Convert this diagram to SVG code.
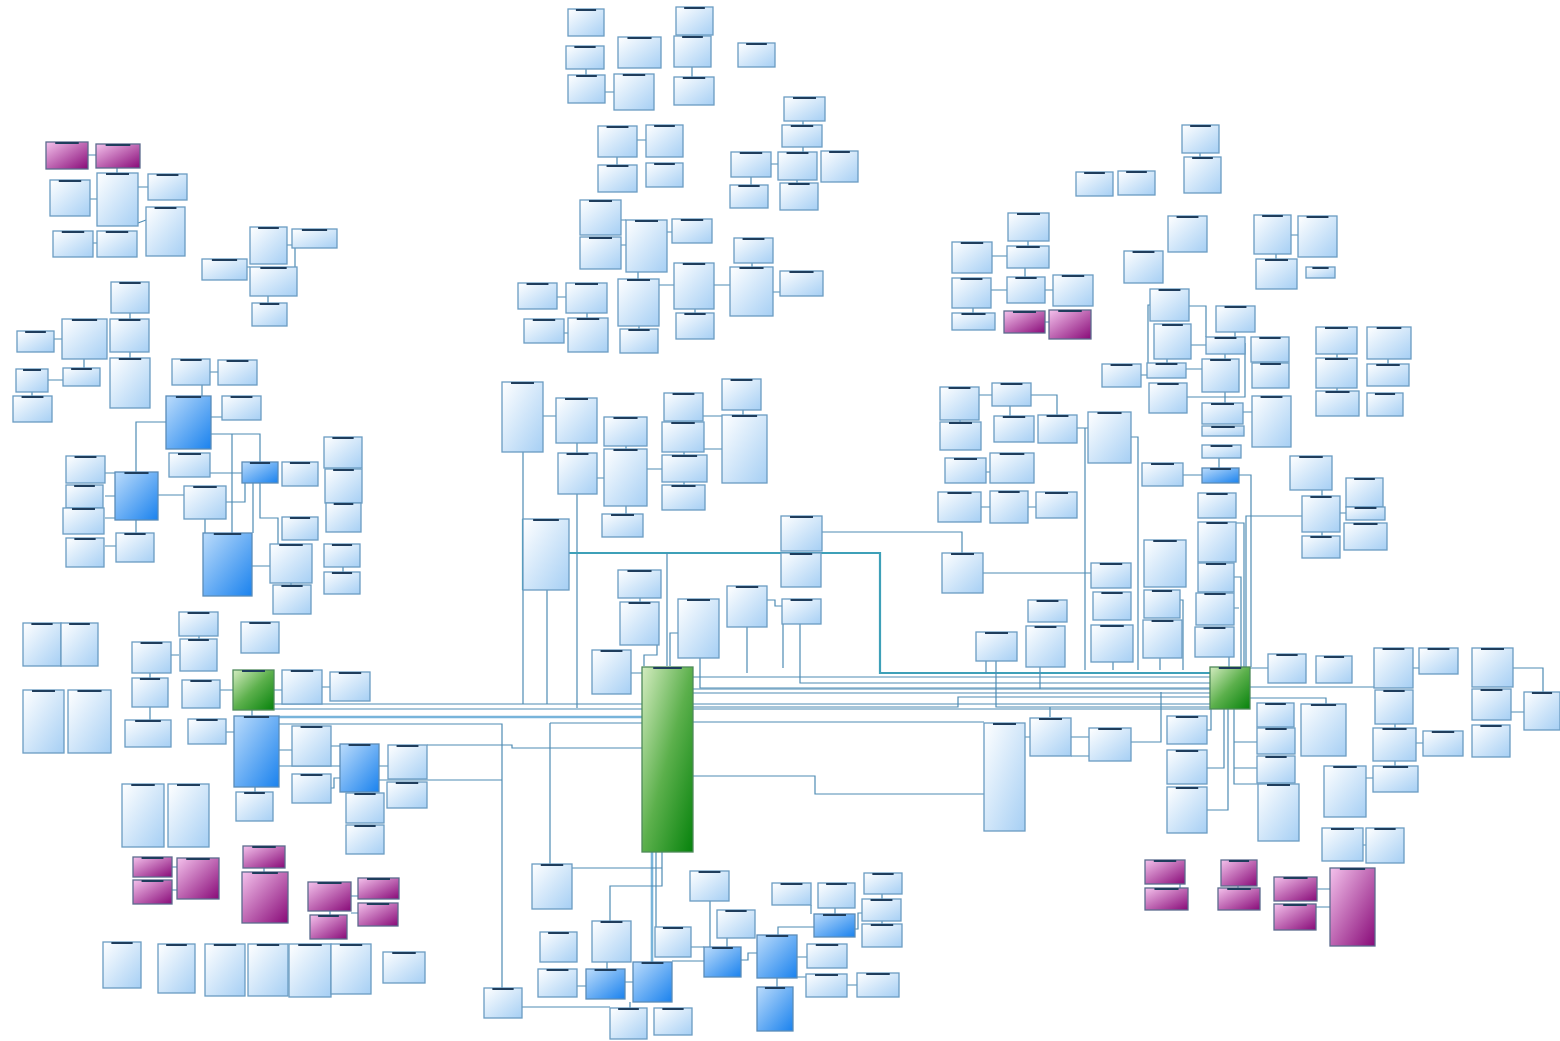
<svg xmlns="http://www.w3.org/2000/svg" width="1560" height="1041" viewBox="0 0 1560 1041">
<defs>
<linearGradient id="gl" x1="0" y1="0" x2="1" y2="1"><stop offset="0" stop-color="#ffffff"/><stop offset="1" stop-color="#a6cff4"/></linearGradient>
<linearGradient id="gb" x1="0" y1="0" x2="1" y2="1"><stop offset="0" stop-color="#bcdcfb"/><stop offset="1" stop-color="#1a82ee"/></linearGradient>
<linearGradient id="gp" x1="0" y1="0" x2="1" y2="1"><stop offset="0" stop-color="#f4c2ec"/><stop offset="1" stop-color="#880a78"/></linearGradient>
<linearGradient id="gg" x1="0" y1="0" x2="1" y2="1"><stop offset="0" stop-color="#d4ecc0"/><stop offset="0.5" stop-color="#5cb04c"/><stop offset="1" stop-color="#06820c"/></linearGradient>
</defs>
<style>
svg svg{overflow:visible}
.l rect{fill:url(#gl);stroke:#6a9cc2;stroke-width:1.3}
.b rect{fill:url(#gb);stroke:#5a8cb8;stroke-width:1.3}
.p rect{fill:url(#gp);stroke:#5c6c8e;stroke-width:1.3}
.g rect{fill:url(#gg);stroke:#4f8a5a;stroke-width:1.3}
rect.h{fill:#1f3d5c;stroke:none}
.c path{fill:none;stroke:#4f8cb4;stroke-width:1.2}
.c path.t{stroke:#78b4da;stroke-width:2.6}
.c path.t2{stroke:#3ea0b8;stroke-width:2.2}
</style>
<rect width="1560" height="1041" fill="#ffffff"/>
<g id="connectors" class="c">
<path d="M88 155H96M117 168V173M90 199H97M138 187H148M138 223L146 220M93 243H97M287 245H292M295 248V267M247 267H250M268 296V303M130 313V319M54 339H62M84 359V368M48 380H63M32 392V396M130 352V358M210 372H218M202 385V396M211 417H222"/>
<path d="M136 472V422H166M211 434H260V462M232 434V533M210 473H242M158 495H184M226 502H245V483M253 483V533M260 483V518H278V544M105 473H115M105 496H115M105 518H115M136 520V533M105 546H116M205 519V533M252 566H270M291 583V585M343 567V572"/>
<path d="M171 655H179M150 673V678M150 707V720M220 690H233M274 690H282M322 687H330M226 732H234M252 710V716M279 750H292M279 766H340M331 746H340M331 788H334V778H340M379 766H388M379 780H502M427 745H512V748H642M255 787V792M199 636V639"/>
<path d="M274 704H1210M274 709H1210"/>
<path class="t" d="M279 717H642"/>
<path d="M279 724H502V988M172 867H177M172 890H177M264 868V872M351 896H358M351 913H358M330 911V915"/>
<path d="M586 69V75M605 92H614M692 67V77M637 140H646M617 157V165M771 164H778M751 177V185M797 180V183M803 121V125M803 147V152M621 245H626M621 220H626M667 232H672M638 272V279M557 297H566M587 313V318M564 333H568M659 285H674M714 285H730M773 292H780M695 309V313M639 326V329M752 263V267"/>
<path d="M543 416H556M577 443V453M597 478H604M647 469H662M626 446V449M626 506V514M684 452V455M684 482V485M703 416H722M704 449H722M743 410V415M523 452V704M547 590V704M577 494V708"/>
<path class="t2" d="M523 519V590"/>
<path class="t2" d="M569 553H880V673H1210"/>
<path d="M667 553V666M822 532H962V553M983 573H1091M640 598V602M657 645V655H644V666M631 673H642M678 633H670V666M700 658V688H1210M767 600H775V606H782M747 627V673M783 624V668M800 624V683H1210M693 677H1210M693 693H1210M693 707H958V697H1210M693 722H984M693 776H815V794H984"/>
<path class="t" d="M652 852V962"/>
<path d="M656 852V927M662 852V886H610V921M572 868H662M550 723H642M550 723V864M577 986H586M625 982H633M607 962V969M630 1002V1008M691 947H704M672 961H704M710 901V947M727 938V947M741 960H748V953H757M778 935V927H814M811 905V914M835 908V914M855 929H858V913H862M882 894V899M882 921V924M797 957H807M797 977H806M847 985H857M777 978V987M522 1007H610"/>
<path d="M1028 241V246M992 256H1007M1025 268V277M991 290H1007M1045 290H1053M973 308V313M1045 322H1049M1291 235H1298M1276 254V259M1189 306H1206V337M1191 345H1206M1235 332V337M1150 305H1148V363M1167 359V363M1141 375H1147M1186 369H1202M1245 343V397H1187M1225 354V359M1225 392V403M1243 412H1252M1337 354V358M1388 359V364M1337 388V391M1200 153V157"/>
<path d="M979 395H992M960 420V422M1031 395H1057V415M1010 406V416M1077 428H1088M1085 428V670M1131 437H1138V670"/>
<path d="M986 472H990M981 507H990M1028 507H1036M1183 475H1202M1219 458V468M1239 475H1251V667M1302 516H1246V667M1236 523H1244V667M1234 577H1241V667M1234 608H1239M1229 657V667M1340 513H1346M1322 490V496M1322 532V536M1180 600H1183V670M1113 662V670M1160 658V670M986 661V673M996 661V707H1210M1040 667V689M693 689H1210M1050 707V717M1161 692V742H1131"/>
<path d="M1250 668H1268M1250 687H1374M1413 668H1419M1513 668H1543V692M1511 712H1524M1250 698H1326V704M1207 730H1211V709M1207 768H1224V709M1207 810H1228V709M1234 709V784H1258M1234 742H1257M1234 768H1257M1025 737H1030M1071 737H1089M1071 756H1089M1366 778H1373M1395 724V728M1395 761V766M1416 743H1423M1363 845H1366M1180 884V888M1238 886V888M1317 889H1330M1316 907H1330"/>
</g>
<g id="n1"><svg x="46" y="142" width="42" height="27" class="p"><rect width="100%" height="100%"/><rect class="h" x="22%" width="56%" height="2"/></svg></g>
<g id="n2"><svg x="96" y="144" width="44" height="24" class="p"><rect width="100%" height="100%"/><rect class="h" x="22%" width="56%" height="2"/></svg></g>
<g id="n3"><svg x="50" y="180" width="40" height="36" class="l"><rect width="100%" height="100%"/><rect class="h" x="22%" width="56%" height="2"/></svg></g>
<g id="n4"><svg x="97" y="173" width="41" height="53" class="l"><rect width="100%" height="100%"/><rect class="h" x="22%" width="56%" height="2"/></svg></g>
<g id="n5"><svg x="148" y="174" width="39" height="26" class="l"><rect width="100%" height="100%"/><rect class="h" x="22%" width="56%" height="2"/></svg></g>
<g id="n6"><svg x="146" y="207" width="39" height="49" class="l"><rect width="100%" height="100%"/><rect class="h" x="22%" width="56%" height="2"/></svg></g>
<g id="n7"><svg x="53" y="231" width="40" height="26" class="l"><rect width="100%" height="100%"/><rect class="h" x="22%" width="56%" height="2"/></svg></g>
<g id="n8"><svg x="97" y="231" width="40" height="26" class="l"><rect width="100%" height="100%"/><rect class="h" x="22%" width="56%" height="2"/></svg></g>
<g id="n9"><svg x="250" y="227" width="37" height="37" class="l"><rect width="100%" height="100%"/><rect class="h" x="22%" width="56%" height="2"/></svg></g>
<g id="n10"><svg x="292" y="229" width="45" height="19" class="l"><rect width="100%" height="100%"/><rect class="h" x="22%" width="56%" height="2"/></svg></g>
<g id="n11"><svg x="202" y="259" width="45" height="21" class="l"><rect width="100%" height="100%"/><rect class="h" x="22%" width="56%" height="2"/></svg></g>
<g id="n12"><svg x="250" y="267" width="47" height="29" class="l"><rect width="100%" height="100%"/><rect class="h" x="22%" width="56%" height="2"/></svg></g>
<g id="n13"><svg x="252" y="303" width="35" height="23" class="l"><rect width="100%" height="100%"/><rect class="h" x="22%" width="56%" height="2"/></svg></g>
<g id="n14"><svg x="111" y="282" width="38" height="31" class="l"><rect width="100%" height="100%"/><rect class="h" x="22%" width="56%" height="2"/></svg></g>
<g id="n15"><svg x="62" y="319" width="45" height="40" class="l"><rect width="100%" height="100%"/><rect class="h" x="22%" width="56%" height="2"/></svg></g>
<g id="n16"><svg x="110" y="319" width="39" height="33" class="l"><rect width="100%" height="100%"/><rect class="h" x="22%" width="56%" height="2"/></svg></g>
<g id="n17"><svg x="17" y="331" width="37" height="21" class="l"><rect width="100%" height="100%"/><rect class="h" x="22%" width="56%" height="2"/></svg></g>
<g id="n18"><svg x="16" y="369" width="32" height="23" class="l"><rect width="100%" height="100%"/><rect class="h" x="22%" width="56%" height="2"/></svg></g>
<g id="n19"><svg x="63" y="368" width="37" height="18" class="l"><rect width="100%" height="100%"/><rect class="h" x="22%" width="56%" height="2"/></svg></g>
<g id="n20"><svg x="13" y="396" width="39" height="26" class="l"><rect width="100%" height="100%"/><rect class="h" x="22%" width="56%" height="2"/></svg></g>
<g id="n21"><svg x="110" y="358" width="40" height="50" class="l"><rect width="100%" height="100%"/><rect class="h" x="22%" width="56%" height="2"/></svg></g>
<g id="n22"><svg x="172" y="359" width="38" height="26" class="l"><rect width="100%" height="100%"/><rect class="h" x="22%" width="56%" height="2"/></svg></g>
<g id="n23"><svg x="218" y="360" width="39" height="25" class="l"><rect width="100%" height="100%"/><rect class="h" x="22%" width="56%" height="2"/></svg></g>
<g id="n24"><svg x="166" y="396" width="45" height="53" class="b"><rect width="100%" height="100%"/><rect class="h" x="22%" width="56%" height="2"/></svg></g>
<g id="n25"><svg x="169" y="453" width="41" height="24" class="l"><rect width="100%" height="100%"/><rect class="h" x="22%" width="56%" height="2"/></svg></g>
<g id="n26"><svg x="222" y="396" width="39" height="24" class="l"><rect width="100%" height="100%"/><rect class="h" x="22%" width="56%" height="2"/></svg></g>
<g id="n27"><svg x="242" y="462" width="36" height="21" class="b"><rect width="100%" height="100%"/><rect class="h" x="22%" width="56%" height="2"/></svg></g>
<g id="n28"><svg x="282" y="462" width="36" height="24" class="l"><rect width="100%" height="100%"/><rect class="h" x="22%" width="56%" height="2"/></svg></g>
<g id="n29"><svg x="324" y="437" width="38" height="31" class="l"><rect width="100%" height="100%"/><rect class="h" x="22%" width="56%" height="2"/></svg></g>
<g id="n30"><svg x="325" y="469" width="37" height="34" class="l"><rect width="100%" height="100%"/><rect class="h" x="22%" width="56%" height="2"/></svg></g>
<g id="n31"><svg x="326" y="503" width="35" height="29" class="l"><rect width="100%" height="100%"/><rect class="h" x="22%" width="56%" height="2"/></svg></g>
<g id="n32"><svg x="324" y="544" width="36" height="23" class="l"><rect width="100%" height="100%"/><rect class="h" x="22%" width="56%" height="2"/></svg></g>
<g id="n33"><svg x="324" y="572" width="36" height="22" class="l"><rect width="100%" height="100%"/><rect class="h" x="22%" width="56%" height="2"/></svg></g>
<g id="n34"><svg x="66" y="456" width="39" height="27" class="l"><rect width="100%" height="100%"/><rect class="h" x="22%" width="56%" height="2"/></svg></g>
<g id="n35"><svg x="66" y="485" width="37" height="23" class="l"><rect width="100%" height="100%"/><rect class="h" x="22%" width="56%" height="2"/></svg></g>
<g id="n36"><svg x="63" y="508" width="41" height="26" class="l"><rect width="100%" height="100%"/><rect class="h" x="22%" width="56%" height="2"/></svg></g>
<g id="n37"><svg x="66" y="538" width="38" height="29" class="l"><rect width="100%" height="100%"/><rect class="h" x="22%" width="56%" height="2"/></svg></g>
<g id="n38"><svg x="115" y="472" width="43" height="48" class="b"><rect width="100%" height="100%"/><rect class="h" x="22%" width="56%" height="2"/></svg></g>
<g id="n39"><svg x="116" y="533" width="38" height="29" class="l"><rect width="100%" height="100%"/><rect class="h" x="22%" width="56%" height="2"/></svg></g>
<g id="n40"><svg x="184" y="486" width="42" height="33" class="l"><rect width="100%" height="100%"/><rect class="h" x="22%" width="56%" height="2"/></svg></g>
<g id="n41"><svg x="203" y="533" width="49" height="63" class="b"><rect width="100%" height="100%"/><rect class="h" x="22%" width="56%" height="2"/></svg></g>
<g id="n42"><svg x="270" y="544" width="42" height="39" class="l"><rect width="100%" height="100%"/><rect class="h" x="22%" width="56%" height="2"/></svg></g>
<g id="n43"><svg x="282" y="517" width="36" height="23" class="l"><rect width="100%" height="100%"/><rect class="h" x="22%" width="56%" height="2"/></svg></g>
<g id="n44"><svg x="273" y="585" width="38" height="29" class="l"><rect width="100%" height="100%"/><rect class="h" x="22%" width="56%" height="2"/></svg></g>
<g id="n45"><svg x="23" y="623" width="38" height="43" class="l"><rect width="100%" height="100%"/><rect class="h" x="22%" width="56%" height="2"/></svg></g>
<g id="n46"><svg x="61" y="623" width="37" height="43" class="l"><rect width="100%" height="100%"/><rect class="h" x="22%" width="56%" height="2"/></svg></g>
<g id="n47"><svg x="132" y="642" width="39" height="31" class="l"><rect width="100%" height="100%"/><rect class="h" x="22%" width="56%" height="2"/></svg></g>
<g id="n48"><svg x="179" y="612" width="39" height="24" class="l"><rect width="100%" height="100%"/><rect class="h" x="22%" width="56%" height="2"/></svg></g>
<g id="n49"><svg x="180" y="639" width="37" height="32" class="l"><rect width="100%" height="100%"/><rect class="h" x="22%" width="56%" height="2"/></svg></g>
<g id="n50"><svg x="241" y="622" width="38" height="31" class="l"><rect width="100%" height="100%"/><rect class="h" x="22%" width="56%" height="2"/></svg></g>
<g id="n51"><svg x="23" y="690" width="41" height="63" class="l"><rect width="100%" height="100%"/><rect class="h" x="22%" width="56%" height="2"/></svg></g>
<g id="n52"><svg x="68" y="690" width="43" height="63" class="l"><rect width="100%" height="100%"/><rect class="h" x="22%" width="56%" height="2"/></svg></g>
<g id="n53"><svg x="132" y="678" width="36" height="29" class="l"><rect width="100%" height="100%"/><rect class="h" x="22%" width="56%" height="2"/></svg></g>
<g id="n54"><svg x="125" y="720" width="46" height="27" class="l"><rect width="100%" height="100%"/><rect class="h" x="22%" width="56%" height="2"/></svg></g>
<g id="n55"><svg x="182" y="680" width="38" height="28" class="l"><rect width="100%" height="100%"/><rect class="h" x="22%" width="56%" height="2"/></svg></g>
<g id="n56"><svg x="233" y="670" width="41" height="40" class="g"><rect width="100%" height="100%"/><rect class="h" x="22%" width="56%" height="2"/></svg></g>
<g id="n57"><svg x="282" y="670" width="40" height="34" class="l"><rect width="100%" height="100%"/><rect class="h" x="22%" width="56%" height="2"/></svg></g>
<g id="n58"><svg x="330" y="672" width="40" height="29" class="l"><rect width="100%" height="100%"/><rect class="h" x="22%" width="56%" height="2"/></svg></g>
<g id="n59"><svg x="188" y="719" width="38" height="25" class="l"><rect width="100%" height="100%"/><rect class="h" x="22%" width="56%" height="2"/></svg></g>
<g id="n60"><svg x="234" y="716" width="45" height="71" class="b"><rect width="100%" height="100%"/><rect class="h" x="22%" width="56%" height="2"/></svg></g>
<g id="n61"><svg x="236" y="792" width="37" height="29" class="l"><rect width="100%" height="100%"/><rect class="h" x="22%" width="56%" height="2"/></svg></g>
<g id="n62"><svg x="292" y="726" width="39" height="40" class="l"><rect width="100%" height="100%"/><rect class="h" x="22%" width="56%" height="2"/></svg></g>
<g id="n63"><svg x="292" y="774" width="39" height="29" class="l"><rect width="100%" height="100%"/><rect class="h" x="22%" width="56%" height="2"/></svg></g>
<g id="n64"><svg x="340" y="744" width="39" height="48" class="b"><rect width="100%" height="100%"/><rect class="h" x="22%" width="56%" height="2"/></svg></g>
<g id="n65"><svg x="388" y="745" width="39" height="34" class="l"><rect width="100%" height="100%"/><rect class="h" x="22%" width="56%" height="2"/></svg></g>
<g id="n66"><svg x="387" y="782" width="40" height="26" class="l"><rect width="100%" height="100%"/><rect class="h" x="22%" width="56%" height="2"/></svg></g>
<g id="n67"><svg x="346" y="793" width="38" height="30" class="l"><rect width="100%" height="100%"/><rect class="h" x="22%" width="56%" height="2"/></svg></g>
<g id="n68"><svg x="346" y="825" width="38" height="29" class="l"><rect width="100%" height="100%"/><rect class="h" x="22%" width="56%" height="2"/></svg></g>
<g id="n69"><svg x="122" y="784" width="42" height="63" class="l"><rect width="100%" height="100%"/><rect class="h" x="22%" width="56%" height="2"/></svg></g>
<g id="n70"><svg x="168" y="784" width="41" height="63" class="l"><rect width="100%" height="100%"/><rect class="h" x="22%" width="56%" height="2"/></svg></g>
<g id="n71"><svg x="133" y="857" width="39" height="20" class="p"><rect width="100%" height="100%"/><rect class="h" x="22%" width="56%" height="2"/></svg></g>
<g id="n72"><svg x="133" y="880" width="39" height="24" class="p"><rect width="100%" height="100%"/><rect class="h" x="22%" width="56%" height="2"/></svg></g>
<g id="n73"><svg x="177" y="858" width="42" height="41" class="p"><rect width="100%" height="100%"/><rect class="h" x="22%" width="56%" height="2"/></svg></g>
<g id="n74"><svg x="243" y="846" width="42" height="22" class="p"><rect width="100%" height="100%"/><rect class="h" x="22%" width="56%" height="2"/></svg></g>
<g id="n75"><svg x="242" y="872" width="46" height="51" class="p"><rect width="100%" height="100%"/><rect class="h" x="22%" width="56%" height="2"/></svg></g>
<g id="n76"><svg x="308" y="882" width="43" height="29" class="p"><rect width="100%" height="100%"/><rect class="h" x="22%" width="56%" height="2"/></svg></g>
<g id="n77"><svg x="310" y="915" width="37" height="24" class="p"><rect width="100%" height="100%"/><rect class="h" x="22%" width="56%" height="2"/></svg></g>
<g id="n78"><svg x="358" y="878" width="41" height="21" class="p"><rect width="100%" height="100%"/><rect class="h" x="22%" width="56%" height="2"/></svg></g>
<g id="n79"><svg x="358" y="903" width="40" height="23" class="p"><rect width="100%" height="100%"/><rect class="h" x="22%" width="56%" height="2"/></svg></g>
<g id="n80"><svg x="103" y="942" width="38" height="46" class="l"><rect width="100%" height="100%"/><rect class="h" x="22%" width="56%" height="2"/></svg></g>
<g id="n81"><svg x="158" y="944" width="37" height="49" class="l"><rect width="100%" height="100%"/><rect class="h" x="22%" width="56%" height="2"/></svg></g>
<g id="n82"><svg x="205" y="944" width="40" height="52" class="l"><rect width="100%" height="100%"/><rect class="h" x="22%" width="56%" height="2"/></svg></g>
<g id="n83"><svg x="248" y="944" width="40" height="52" class="l"><rect width="100%" height="100%"/><rect class="h" x="22%" width="56%" height="2"/></svg></g>
<g id="n84"><svg x="289" y="944" width="42" height="53" class="l"><rect width="100%" height="100%"/><rect class="h" x="22%" width="56%" height="2"/></svg></g>
<g id="n85"><svg x="331" y="944" width="40" height="50" class="l"><rect width="100%" height="100%"/><rect class="h" x="22%" width="56%" height="2"/></svg></g>
<g id="n86"><svg x="383" y="952" width="42" height="31" class="l"><rect width="100%" height="100%"/><rect class="h" x="22%" width="56%" height="2"/></svg></g>
<g id="n87"><svg x="484" y="988" width="38" height="30" class="l"><rect width="100%" height="100%"/><rect class="h" x="22%" width="56%" height="2"/></svg></g>
<g id="n88"><svg x="568" y="9" width="36" height="27" class="l"><rect width="100%" height="100%"/><rect class="h" x="22%" width="56%" height="2"/></svg></g>
<g id="n89"><svg x="566" y="46" width="38" height="23" class="l"><rect width="100%" height="100%"/><rect class="h" x="22%" width="56%" height="2"/></svg></g>
<g id="n90"><svg x="568" y="75" width="37" height="28" class="l"><rect width="100%" height="100%"/><rect class="h" x="22%" width="56%" height="2"/></svg></g>
<g id="n91"><svg x="618" y="37" width="43" height="31" class="l"><rect width="100%" height="100%"/><rect class="h" x="22%" width="56%" height="2"/></svg></g>
<g id="n92"><svg x="614" y="74" width="40" height="36" class="l"><rect width="100%" height="100%"/><rect class="h" x="22%" width="56%" height="2"/></svg></g>
<g id="n93"><svg x="676" y="7" width="37" height="28" class="l"><rect width="100%" height="100%"/><rect class="h" x="22%" width="56%" height="2"/></svg></g>
<g id="n94"><svg x="674" y="36" width="37" height="31" class="l"><rect width="100%" height="100%"/><rect class="h" x="22%" width="56%" height="2"/></svg></g>
<g id="n95"><svg x="674" y="77" width="40" height="28" class="l"><rect width="100%" height="100%"/><rect class="h" x="22%" width="56%" height="2"/></svg></g>
<g id="n96"><svg x="738" y="43" width="37" height="24" class="l"><rect width="100%" height="100%"/><rect class="h" x="22%" width="56%" height="2"/></svg></g>
<g id="n97"><svg x="598" y="126" width="39" height="31" class="l"><rect width="100%" height="100%"/><rect class="h" x="22%" width="56%" height="2"/></svg></g>
<g id="n98"><svg x="646" y="125" width="37" height="32" class="l"><rect width="100%" height="100%"/><rect class="h" x="22%" width="56%" height="2"/></svg></g>
<g id="n99"><svg x="598" y="165" width="39" height="27" class="l"><rect width="100%" height="100%"/><rect class="h" x="22%" width="56%" height="2"/></svg></g>
<g id="n100"><svg x="646" y="163" width="37" height="24" class="l"><rect width="100%" height="100%"/><rect class="h" x="22%" width="56%" height="2"/></svg></g>
<g id="n101"><svg x="784" y="97" width="41" height="24" class="l"><rect width="100%" height="100%"/><rect class="h" x="22%" width="56%" height="2"/></svg></g>
<g id="n102"><svg x="782" y="125" width="40" height="22" class="l"><rect width="100%" height="100%"/><rect class="h" x="22%" width="56%" height="2"/></svg></g>
<g id="n103"><svg x="731" y="152" width="40" height="25" class="l"><rect width="100%" height="100%"/><rect class="h" x="22%" width="56%" height="2"/></svg></g>
<g id="n104"><svg x="778" y="152" width="39" height="28" class="l"><rect width="100%" height="100%"/><rect class="h" x="22%" width="56%" height="2"/></svg></g>
<g id="n105"><svg x="821" y="151" width="37" height="31" class="l"><rect width="100%" height="100%"/><rect class="h" x="22%" width="56%" height="2"/></svg></g>
<g id="n106"><svg x="730" y="185" width="38" height="23" class="l"><rect width="100%" height="100%"/><rect class="h" x="22%" width="56%" height="2"/></svg></g>
<g id="n107"><svg x="780" y="183" width="38" height="27" class="l"><rect width="100%" height="100%"/><rect class="h" x="22%" width="56%" height="2"/></svg></g>
<g id="n108"><svg x="580" y="200" width="41" height="35" class="l"><rect width="100%" height="100%"/><rect class="h" x="22%" width="56%" height="2"/></svg></g>
<g id="n109"><svg x="580" y="237" width="41" height="32" class="l"><rect width="100%" height="100%"/><rect class="h" x="22%" width="56%" height="2"/></svg></g>
<g id="n110"><svg x="626" y="220" width="41" height="52" class="l"><rect width="100%" height="100%"/><rect class="h" x="22%" width="56%" height="2"/></svg></g>
<g id="n111"><svg x="672" y="219" width="40" height="24" class="l"><rect width="100%" height="100%"/><rect class="h" x="22%" width="56%" height="2"/></svg></g>
<g id="n112"><svg x="518" y="283" width="39" height="26" class="l"><rect width="100%" height="100%"/><rect class="h" x="22%" width="56%" height="2"/></svg></g>
<g id="n113"><svg x="566" y="283" width="41" height="30" class="l"><rect width="100%" height="100%"/><rect class="h" x="22%" width="56%" height="2"/></svg></g>
<g id="n114"><svg x="524" y="319" width="40" height="24" class="l"><rect width="100%" height="100%"/><rect class="h" x="22%" width="56%" height="2"/></svg></g>
<g id="n115"><svg x="568" y="318" width="40" height="34" class="l"><rect width="100%" height="100%"/><rect class="h" x="22%" width="56%" height="2"/></svg></g>
<g id="n116"><svg x="618" y="279" width="41" height="47" class="l"><rect width="100%" height="100%"/><rect class="h" x="22%" width="56%" height="2"/></svg></g>
<g id="n117"><svg x="620" y="329" width="38" height="24" class="l"><rect width="100%" height="100%"/><rect class="h" x="22%" width="56%" height="2"/></svg></g>
<g id="n118"><svg x="674" y="263" width="40" height="46" class="l"><rect width="100%" height="100%"/><rect class="h" x="22%" width="56%" height="2"/></svg></g>
<g id="n119"><svg x="676" y="313" width="38" height="26" class="l"><rect width="100%" height="100%"/><rect class="h" x="22%" width="56%" height="2"/></svg></g>
<g id="n120"><svg x="734" y="238" width="39" height="25" class="l"><rect width="100%" height="100%"/><rect class="h" x="22%" width="56%" height="2"/></svg></g>
<g id="n121"><svg x="730" y="267" width="43" height="49" class="l"><rect width="100%" height="100%"/><rect class="h" x="22%" width="56%" height="2"/></svg></g>
<g id="n122"><svg x="780" y="271" width="43" height="25" class="l"><rect width="100%" height="100%"/><rect class="h" x="22%" width="56%" height="2"/></svg></g>
<g id="n123"><svg x="502" y="382" width="41" height="70" class="l"><rect width="100%" height="100%"/><rect class="h" x="22%" width="56%" height="2"/></svg></g>
<g id="n124"><svg x="556" y="398" width="41" height="45" class="l"><rect width="100%" height="100%"/><rect class="h" x="22%" width="56%" height="2"/></svg></g>
<g id="n125"><svg x="558" y="453" width="39" height="41" class="l"><rect width="100%" height="100%"/><rect class="h" x="22%" width="56%" height="2"/></svg></g>
<g id="n126"><svg x="604" y="417" width="43" height="29" class="l"><rect width="100%" height="100%"/><rect class="h" x="22%" width="56%" height="2"/></svg></g>
<g id="n127"><svg x="604" y="449" width="43" height="57" class="l"><rect width="100%" height="100%"/><rect class="h" x="22%" width="56%" height="2"/></svg></g>
<g id="n128"><svg x="602" y="514" width="41" height="23" class="l"><rect width="100%" height="100%"/><rect class="h" x="22%" width="56%" height="2"/></svg></g>
<g id="n129"><svg x="664" y="393" width="39" height="28" class="l"><rect width="100%" height="100%"/><rect class="h" x="22%" width="56%" height="2"/></svg></g>
<g id="n130"><svg x="662" y="422" width="42" height="30" class="l"><rect width="100%" height="100%"/><rect class="h" x="22%" width="56%" height="2"/></svg></g>
<g id="n131"><svg x="662" y="455" width="45" height="27" class="l"><rect width="100%" height="100%"/><rect class="h" x="22%" width="56%" height="2"/></svg></g>
<g id="n132"><svg x="662" y="485" width="43" height="25" class="l"><rect width="100%" height="100%"/><rect class="h" x="22%" width="56%" height="2"/></svg></g>
<g id="n133"><svg x="722" y="379" width="39" height="31" class="l"><rect width="100%" height="100%"/><rect class="h" x="22%" width="56%" height="2"/></svg></g>
<g id="n134"><svg x="722" y="415" width="45" height="68" class="l"><rect width="100%" height="100%"/><rect class="h" x="22%" width="56%" height="2"/></svg></g>
<g id="n135"><svg x="523" y="519" width="46" height="71" class="l"><rect width="100%" height="100%"/><rect class="h" x="22%" width="56%" height="2"/></svg></g>
<g id="n136"><svg x="618" y="570" width="43" height="28" class="l"><rect width="100%" height="100%"/><rect class="h" x="22%" width="56%" height="2"/></svg></g>
<g id="n137"><svg x="620" y="602" width="39" height="43" class="l"><rect width="100%" height="100%"/><rect class="h" x="22%" width="56%" height="2"/></svg></g>
<g id="n138"><svg x="592" y="650" width="39" height="44" class="l"><rect width="100%" height="100%"/><rect class="h" x="22%" width="56%" height="2"/></svg></g>
<g id="n139"><svg x="678" y="599" width="41" height="59" class="l"><rect width="100%" height="100%"/><rect class="h" x="22%" width="56%" height="2"/></svg></g>
<g id="n140"><svg x="727" y="586" width="40" height="41" class="l"><rect width="100%" height="100%"/><rect class="h" x="22%" width="56%" height="2"/></svg></g>
<g id="n141"><svg x="781" y="516" width="41" height="35" class="l"><rect width="100%" height="100%"/><rect class="h" x="22%" width="56%" height="2"/></svg></g>
<g id="n142"><svg x="781" y="553" width="40" height="34" class="l"><rect width="100%" height="100%"/><rect class="h" x="22%" width="56%" height="2"/></svg></g>
<g id="n143"><svg x="782" y="599" width="39" height="25" class="l"><rect width="100%" height="100%"/><rect class="h" x="22%" width="56%" height="2"/></svg></g>
<g id="n144"><svg x="942" y="553" width="41" height="40" class="l"><rect width="100%" height="100%"/><rect class="h" x="22%" width="56%" height="2"/></svg></g>
<g id="n145"><svg x="642" y="667" width="51" height="185" class="g"><rect width="100%" height="100%"/><rect class="h" x="22%" width="56%" height="2"/></svg></g>
<g id="n146"><svg x="532" y="864" width="40" height="45" class="l"><rect width="100%" height="100%"/><rect class="h" x="22%" width="56%" height="2"/></svg></g>
<g id="n147"><svg x="690" y="871" width="39" height="30" class="l"><rect width="100%" height="100%"/><rect class="h" x="22%" width="56%" height="2"/></svg></g>
<g id="n148"><svg x="540" y="932" width="37" height="30" class="l"><rect width="100%" height="100%"/><rect class="h" x="22%" width="56%" height="2"/></svg></g>
<g id="n149"><svg x="592" y="921" width="39" height="41" class="l"><rect width="100%" height="100%"/><rect class="h" x="22%" width="56%" height="2"/></svg></g>
<g id="n150"><svg x="655" y="927" width="36" height="30" class="l"><rect width="100%" height="100%"/><rect class="h" x="22%" width="56%" height="2"/></svg></g>
<g id="n151"><svg x="538" y="969" width="39" height="28" class="l"><rect width="100%" height="100%"/><rect class="h" x="22%" width="56%" height="2"/></svg></g>
<g id="n152"><svg x="586" y="969" width="39" height="30" class="b"><rect width="100%" height="100%"/><rect class="h" x="22%" width="56%" height="2"/></svg></g>
<g id="n153"><svg x="633" y="962" width="39" height="40" class="b"><rect width="100%" height="100%"/><rect class="h" x="22%" width="56%" height="2"/></svg></g>
<g id="n154"><svg x="610" y="1008" width="37" height="31" class="l"><rect width="100%" height="100%"/><rect class="h" x="22%" width="56%" height="2"/></svg></g>
<g id="n155"><svg x="654" y="1008" width="38" height="27" class="l"><rect width="100%" height="100%"/><rect class="h" x="22%" width="56%" height="2"/></svg></g>
<g id="n156"><svg x="717" y="910" width="38" height="28" class="l"><rect width="100%" height="100%"/><rect class="h" x="22%" width="56%" height="2"/></svg></g>
<g id="n157"><svg x="704" y="947" width="37" height="30" class="b"><rect width="100%" height="100%"/><rect class="h" x="22%" width="56%" height="2"/></svg></g>
<g id="n158"><svg x="757" y="935" width="40" height="43" class="b"><rect width="100%" height="100%"/><rect class="h" x="22%" width="56%" height="2"/></svg></g>
<g id="n159"><svg x="757" y="987" width="36" height="44" class="b"><rect width="100%" height="100%"/><rect class="h" x="22%" width="56%" height="2"/></svg></g>
<g id="n160"><svg x="772" y="883" width="39" height="22" class="l"><rect width="100%" height="100%"/><rect class="h" x="22%" width="56%" height="2"/></svg></g>
<g id="n161"><svg x="818" y="883" width="37" height="25" class="l"><rect width="100%" height="100%"/><rect class="h" x="22%" width="56%" height="2"/></svg></g>
<g id="n162"><svg x="864" y="873" width="38" height="21" class="l"><rect width="100%" height="100%"/><rect class="h" x="22%" width="56%" height="2"/></svg></g>
<g id="n163"><svg x="862" y="899" width="39" height="22" class="l"><rect width="100%" height="100%"/><rect class="h" x="22%" width="56%" height="2"/></svg></g>
<g id="n164"><svg x="862" y="924" width="40" height="23" class="l"><rect width="100%" height="100%"/><rect class="h" x="22%" width="56%" height="2"/></svg></g>
<g id="n165"><svg x="814" y="914" width="41" height="23" class="b"><rect width="100%" height="100%"/><rect class="h" x="22%" width="56%" height="2"/></svg></g>
<g id="n166"><svg x="807" y="944" width="40" height="24" class="l"><rect width="100%" height="100%"/><rect class="h" x="22%" width="56%" height="2"/></svg></g>
<g id="n167"><svg x="806" y="974" width="41" height="23" class="l"><rect width="100%" height="100%"/><rect class="h" x="22%" width="56%" height="2"/></svg></g>
<g id="n168"><svg x="857" y="973" width="42" height="24" class="l"><rect width="100%" height="100%"/><rect class="h" x="22%" width="56%" height="2"/></svg></g>
<g id="n169"><svg x="1182" y="125" width="37" height="28" class="l"><rect width="100%" height="100%"/><rect class="h" x="22%" width="56%" height="2"/></svg></g>
<g id="n170"><svg x="1184" y="157" width="37" height="36" class="l"><rect width="100%" height="100%"/><rect class="h" x="22%" width="56%" height="2"/></svg></g>
<g id="n171"><svg x="1076" y="172" width="37" height="24" class="l"><rect width="100%" height="100%"/><rect class="h" x="22%" width="56%" height="2"/></svg></g>
<g id="n172"><svg x="1118" y="171" width="37" height="24" class="l"><rect width="100%" height="100%"/><rect class="h" x="22%" width="56%" height="2"/></svg></g>
<g id="n173"><svg x="1008" y="213" width="41" height="28" class="l"><rect width="100%" height="100%"/><rect class="h" x="22%" width="56%" height="2"/></svg></g>
<g id="n174"><svg x="952" y="242" width="40" height="31" class="l"><rect width="100%" height="100%"/><rect class="h" x="22%" width="56%" height="2"/></svg></g>
<g id="n175"><svg x="1007" y="246" width="42" height="22" class="l"><rect width="100%" height="100%"/><rect class="h" x="22%" width="56%" height="2"/></svg></g>
<g id="n176"><svg x="952" y="278" width="39" height="30" class="l"><rect width="100%" height="100%"/><rect class="h" x="22%" width="56%" height="2"/></svg></g>
<g id="n177"><svg x="1007" y="277" width="38" height="26" class="l"><rect width="100%" height="100%"/><rect class="h" x="22%" width="56%" height="2"/></svg></g>
<g id="n178"><svg x="1053" y="275" width="40" height="31" class="l"><rect width="100%" height="100%"/><rect class="h" x="22%" width="56%" height="2"/></svg></g>
<g id="n179"><svg x="952" y="313" width="43" height="17" class="l"><rect width="100%" height="100%"/><rect class="h" x="22%" width="56%" height="2"/></svg></g>
<g id="n180"><svg x="1004" y="311" width="41" height="22" class="p"><rect width="100%" height="100%"/><rect class="h" x="22%" width="56%" height="2"/></svg></g>
<g id="n181"><svg x="1049" y="310" width="42" height="29" class="p"><rect width="100%" height="100%"/><rect class="h" x="22%" width="56%" height="2"/></svg></g>
<g id="n182"><svg x="1168" y="216" width="39" height="36" class="l"><rect width="100%" height="100%"/><rect class="h" x="22%" width="56%" height="2"/></svg></g>
<g id="n183"><svg x="1124" y="251" width="39" height="32" class="l"><rect width="100%" height="100%"/><rect class="h" x="22%" width="56%" height="2"/></svg></g>
<g id="n184"><svg x="1254" y="215" width="37" height="39" class="l"><rect width="100%" height="100%"/><rect class="h" x="22%" width="56%" height="2"/></svg></g>
<g id="n185"><svg x="1298" y="216" width="39" height="41" class="l"><rect width="100%" height="100%"/><rect class="h" x="22%" width="56%" height="2"/></svg></g>
<g id="n186"><svg x="1256" y="259" width="41" height="30" class="l"><rect width="100%" height="100%"/><rect class="h" x="22%" width="56%" height="2"/></svg></g>
<g id="n187"><svg x="1306" y="267" width="29" height="11" class="l"><rect width="100%" height="100%"/><rect class="h" x="22%" width="56%" height="2"/></svg></g>
<g id="n188"><svg x="1150" y="289" width="39" height="32" class="l"><rect width="100%" height="100%"/><rect class="h" x="22%" width="56%" height="2"/></svg></g>
<g id="n189"><svg x="1216" y="306" width="39" height="26" class="l"><rect width="100%" height="100%"/><rect class="h" x="22%" width="56%" height="2"/></svg></g>
<g id="n190"><svg x="1154" y="324" width="37" height="35" class="l"><rect width="100%" height="100%"/><rect class="h" x="22%" width="56%" height="2"/></svg></g>
<g id="n191"><svg x="1206" y="337" width="39" height="17" class="l"><rect width="100%" height="100%"/><rect class="h" x="22%" width="56%" height="2"/></svg></g>
<g id="n192"><svg x="1251" y="337" width="38" height="25" class="l"><rect width="100%" height="100%"/><rect class="h" x="22%" width="56%" height="2"/></svg></g>
<g id="n193"><svg x="1102" y="364" width="39" height="23" class="l"><rect width="100%" height="100%"/><rect class="h" x="22%" width="56%" height="2"/></svg></g>
<g id="n194"><svg x="1147" y="363" width="39" height="15" class="l"><rect width="100%" height="100%"/><rect class="h" x="22%" width="56%" height="2"/></svg></g>
<g id="n195"><svg x="1202" y="359" width="37" height="33" class="l"><rect width="100%" height="100%"/><rect class="h" x="22%" width="56%" height="2"/></svg></g>
<g id="n196"><svg x="1252" y="363" width="37" height="25" class="l"><rect width="100%" height="100%"/><rect class="h" x="22%" width="56%" height="2"/></svg></g>
<g id="n197"><svg x="1149" y="383" width="38" height="30" class="l"><rect width="100%" height="100%"/><rect class="h" x="22%" width="56%" height="2"/></svg></g>
<g id="n198"><svg x="1202" y="403" width="41" height="21" class="l"><rect width="100%" height="100%"/><rect class="h" x="22%" width="56%" height="2"/></svg></g>
<g id="n199"><svg x="1202" y="426" width="42" height="10" class="l"><rect width="100%" height="100%"/><rect class="h" x="22%" width="56%" height="2"/></svg></g>
<g id="n200"><svg x="1202" y="445" width="39" height="13" class="l"><rect width="100%" height="100%"/><rect class="h" x="22%" width="56%" height="2"/></svg></g>
<g id="n201"><svg x="1202" y="468" width="37" height="15" class="b"><rect width="100%" height="100%"/><rect class="h" x="22%" width="56%" height="2"/></svg></g>
<g id="n202"><svg x="1252" y="396" width="39" height="51" class="l"><rect width="100%" height="100%"/><rect class="h" x="22%" width="56%" height="2"/></svg></g>
<g id="n203"><svg x="1316" y="327" width="41" height="27" class="l"><rect width="100%" height="100%"/><rect class="h" x="22%" width="56%" height="2"/></svg></g>
<g id="n204"><svg x="1367" y="327" width="44" height="32" class="l"><rect width="100%" height="100%"/><rect class="h" x="22%" width="56%" height="2"/></svg></g>
<g id="n205"><svg x="1316" y="358" width="41" height="30" class="l"><rect width="100%" height="100%"/><rect class="h" x="22%" width="56%" height="2"/></svg></g>
<g id="n206"><svg x="1367" y="364" width="42" height="22" class="l"><rect width="100%" height="100%"/><rect class="h" x="22%" width="56%" height="2"/></svg></g>
<g id="n207"><svg x="1316" y="391" width="43" height="25" class="l"><rect width="100%" height="100%"/><rect class="h" x="22%" width="56%" height="2"/></svg></g>
<g id="n208"><svg x="1367" y="393" width="36" height="23" class="l"><rect width="100%" height="100%"/><rect class="h" x="22%" width="56%" height="2"/></svg></g>
<g id="n209"><svg x="940" y="387" width="39" height="33" class="l"><rect width="100%" height="100%"/><rect class="h" x="22%" width="56%" height="2"/></svg></g>
<g id="n210"><svg x="940" y="422" width="41" height="28" class="l"><rect width="100%" height="100%"/><rect class="h" x="22%" width="56%" height="2"/></svg></g>
<g id="n211"><svg x="992" y="383" width="39" height="23" class="l"><rect width="100%" height="100%"/><rect class="h" x="22%" width="56%" height="2"/></svg></g>
<g id="n212"><svg x="994" y="416" width="40" height="26" class="l"><rect width="100%" height="100%"/><rect class="h" x="22%" width="56%" height="2"/></svg></g>
<g id="n213"><svg x="1038" y="415" width="39" height="28" class="l"><rect width="100%" height="100%"/><rect class="h" x="22%" width="56%" height="2"/></svg></g>
<g id="n214"><svg x="1088" y="412" width="43" height="51" class="l"><rect width="100%" height="100%"/><rect class="h" x="22%" width="56%" height="2"/></svg></g>
<g id="n215"><svg x="945" y="458" width="41" height="25" class="l"><rect width="100%" height="100%"/><rect class="h" x="22%" width="56%" height="2"/></svg></g>
<g id="n216"><svg x="990" y="453" width="44" height="30" class="l"><rect width="100%" height="100%"/><rect class="h" x="22%" width="56%" height="2"/></svg></g>
<g id="n217"><svg x="938" y="492" width="43" height="30" class="l"><rect width="100%" height="100%"/><rect class="h" x="22%" width="56%" height="2"/></svg></g>
<g id="n218"><svg x="990" y="491" width="38" height="32" class="l"><rect width="100%" height="100%"/><rect class="h" x="22%" width="56%" height="2"/></svg></g>
<g id="n219"><svg x="1036" y="492" width="41" height="26" class="l"><rect width="100%" height="100%"/><rect class="h" x="22%" width="56%" height="2"/></svg></g>
<g id="n220"><svg x="976" y="632" width="41" height="29" class="l"><rect width="100%" height="100%"/><rect class="h" x="22%" width="56%" height="2"/></svg></g>
<g id="n221"><svg x="1028" y="600" width="39" height="22" class="l"><rect width="100%" height="100%"/><rect class="h" x="22%" width="56%" height="2"/></svg></g>
<g id="n222"><svg x="1026" y="626" width="39" height="41" class="l"><rect width="100%" height="100%"/><rect class="h" x="22%" width="56%" height="2"/></svg></g>
<g id="n223"><svg x="1091" y="563" width="40" height="25" class="l"><rect width="100%" height="100%"/><rect class="h" x="22%" width="56%" height="2"/></svg></g>
<g id="n224"><svg x="1093" y="592" width="38" height="28" class="l"><rect width="100%" height="100%"/><rect class="h" x="22%" width="56%" height="2"/></svg></g>
<g id="n225"><svg x="1091" y="625" width="42" height="37" class="l"><rect width="100%" height="100%"/><rect class="h" x="22%" width="56%" height="2"/></svg></g>
<g id="n226"><svg x="1144" y="540" width="42" height="47" class="l"><rect width="100%" height="100%"/><rect class="h" x="22%" width="56%" height="2"/></svg></g>
<g id="n227"><svg x="1144" y="590" width="36" height="28" class="l"><rect width="100%" height="100%"/><rect class="h" x="22%" width="56%" height="2"/></svg></g>
<g id="n228"><svg x="1143" y="620" width="39" height="38" class="l"><rect width="100%" height="100%"/><rect class="h" x="22%" width="56%" height="2"/></svg></g>
<g id="n229"><svg x="1142" y="463" width="41" height="23" class="l"><rect width="100%" height="100%"/><rect class="h" x="22%" width="56%" height="2"/></svg></g>
<g id="n230"><svg x="1198" y="493" width="38" height="25" class="l"><rect width="100%" height="100%"/><rect class="h" x="22%" width="56%" height="2"/></svg></g>
<g id="n231"><svg x="1198" y="522" width="38" height="40" class="l"><rect width="100%" height="100%"/><rect class="h" x="22%" width="56%" height="2"/></svg></g>
<g id="n232"><svg x="1198" y="563" width="36" height="29" class="l"><rect width="100%" height="100%"/><rect class="h" x="22%" width="56%" height="2"/></svg></g>
<g id="n233"><svg x="1196" y="593" width="38" height="32" class="l"><rect width="100%" height="100%"/><rect class="h" x="22%" width="56%" height="2"/></svg></g>
<g id="n234"><svg x="1195" y="627" width="39" height="30" class="l"><rect width="100%" height="100%"/><rect class="h" x="22%" width="56%" height="2"/></svg></g>
<g id="n235"><svg x="1290" y="456" width="42" height="34" class="l"><rect width="100%" height="100%"/><rect class="h" x="22%" width="56%" height="2"/></svg></g>
<g id="n236"><svg x="1346" y="478" width="37" height="29" class="l"><rect width="100%" height="100%"/><rect class="h" x="22%" width="56%" height="2"/></svg></g>
<g id="n237"><svg x="1302" y="496" width="38" height="36" class="l"><rect width="100%" height="100%"/><rect class="h" x="22%" width="56%" height="2"/></svg></g>
<g id="n238"><svg x="1346" y="507" width="39" height="13" class="l"><rect width="100%" height="100%"/><rect class="h" x="22%" width="56%" height="2"/></svg></g>
<g id="n239"><svg x="1344" y="523" width="43" height="27" class="l"><rect width="100%" height="100%"/><rect class="h" x="22%" width="56%" height="2"/></svg></g>
<g id="n240"><svg x="1302" y="536" width="38" height="22" class="l"><rect width="100%" height="100%"/><rect class="h" x="22%" width="56%" height="2"/></svg></g>
<g id="n241"><svg x="1210" y="667" width="40" height="42" class="g"><rect width="100%" height="100%"/><rect class="h" x="22%" width="56%" height="2"/></svg></g>
<g id="n242"><svg x="1268" y="654" width="38" height="29" class="l"><rect width="100%" height="100%"/><rect class="h" x="22%" width="56%" height="2"/></svg></g>
<g id="n243"><svg x="1316" y="656" width="36" height="27" class="l"><rect width="100%" height="100%"/><rect class="h" x="22%" width="56%" height="2"/></svg></g>
<g id="n244"><svg x="1374" y="648" width="39" height="40" class="l"><rect width="100%" height="100%"/><rect class="h" x="22%" width="56%" height="2"/></svg></g>
<g id="n245"><svg x="1419" y="648" width="39" height="26" class="l"><rect width="100%" height="100%"/><rect class="h" x="22%" width="56%" height="2"/></svg></g>
<g id="n246"><svg x="1472" y="648" width="41" height="39" class="l"><rect width="100%" height="100%"/><rect class="h" x="22%" width="56%" height="2"/></svg></g>
<g id="n247"><svg x="1375" y="690" width="38" height="34" class="l"><rect width="100%" height="100%"/><rect class="h" x="22%" width="56%" height="2"/></svg></g>
<g id="n248"><svg x="1472" y="689" width="39" height="31" class="l"><rect width="100%" height="100%"/><rect class="h" x="22%" width="56%" height="2"/></svg></g>
<g id="n249"><svg x="1524" y="692" width="36" height="38" class="l"><rect width="100%" height="100%"/><rect class="h" x="22%" width="56%" height="2"/></svg></g>
<g id="n250"><svg x="1373" y="728" width="43" height="33" class="l"><rect width="100%" height="100%"/><rect class="h" x="22%" width="56%" height="2"/></svg></g>
<g id="n251"><svg x="1423" y="731" width="40" height="25" class="l"><rect width="100%" height="100%"/><rect class="h" x="22%" width="56%" height="2"/></svg></g>
<g id="n252"><svg x="1373" y="766" width="45" height="26" class="l"><rect width="100%" height="100%"/><rect class="h" x="22%" width="56%" height="2"/></svg></g>
<g id="n253"><svg x="1472" y="725" width="38" height="32" class="l"><rect width="100%" height="100%"/><rect class="h" x="22%" width="56%" height="2"/></svg></g>
<g id="n254"><svg x="984" y="723" width="41" height="108" class="l"><rect width="100%" height="100%"/><rect class="h" x="22%" width="56%" height="2"/></svg></g>
<g id="n255"><svg x="1030" y="718" width="41" height="38" class="l"><rect width="100%" height="100%"/><rect class="h" x="22%" width="56%" height="2"/></svg></g>
<g id="n256"><svg x="1089" y="728" width="42" height="33" class="l"><rect width="100%" height="100%"/><rect class="h" x="22%" width="56%" height="2"/></svg></g>
<g id="n257"><svg x="1167" y="716" width="40" height="28" class="l"><rect width="100%" height="100%"/><rect class="h" x="22%" width="56%" height="2"/></svg></g>
<g id="n258"><svg x="1167" y="750" width="40" height="34" class="l"><rect width="100%" height="100%"/><rect class="h" x="22%" width="56%" height="2"/></svg></g>
<g id="n259"><svg x="1167" y="787" width="40" height="46" class="l"><rect width="100%" height="100%"/><rect class="h" x="22%" width="56%" height="2"/></svg></g>
<g id="n260"><svg x="1257" y="703" width="37" height="24" class="l"><rect width="100%" height="100%"/><rect class="h" x="22%" width="56%" height="2"/></svg></g>
<g id="n261"><svg x="1257" y="728" width="38" height="26" class="l"><rect width="100%" height="100%"/><rect class="h" x="22%" width="56%" height="2"/></svg></g>
<g id="n262"><svg x="1257" y="756" width="38" height="27" class="l"><rect width="100%" height="100%"/><rect class="h" x="22%" width="56%" height="2"/></svg></g>
<g id="n263"><svg x="1258" y="784" width="41" height="57" class="l"><rect width="100%" height="100%"/><rect class="h" x="22%" width="56%" height="2"/></svg></g>
<g id="n264"><svg x="1301" y="704" width="45" height="52" class="l"><rect width="100%" height="100%"/><rect class="h" x="22%" width="56%" height="2"/></svg></g>
<g id="n265"><svg x="1324" y="766" width="42" height="51" class="l"><rect width="100%" height="100%"/><rect class="h" x="22%" width="56%" height="2"/></svg></g>
<g id="n266"><svg x="1322" y="828" width="41" height="33" class="l"><rect width="100%" height="100%"/><rect class="h" x="22%" width="56%" height="2"/></svg></g>
<g id="n267"><svg x="1366" y="828" width="38" height="35" class="l"><rect width="100%" height="100%"/><rect class="h" x="22%" width="56%" height="2"/></svg></g>
<g id="n268"><svg x="1145" y="860" width="40" height="24" class="p"><rect width="100%" height="100%"/><rect class="h" x="22%" width="56%" height="2"/></svg></g>
<g id="n269"><svg x="1145" y="888" width="43" height="22" class="p"><rect width="100%" height="100%"/><rect class="h" x="22%" width="56%" height="2"/></svg></g>
<g id="n270"><svg x="1221" y="860" width="36" height="26" class="p"><rect width="100%" height="100%"/><rect class="h" x="22%" width="56%" height="2"/></svg></g>
<g id="n271"><svg x="1218" y="888" width="42" height="22" class="p"><rect width="100%" height="100%"/><rect class="h" x="22%" width="56%" height="2"/></svg></g>
<g id="n272"><svg x="1274" y="877" width="43" height="24" class="p"><rect width="100%" height="100%"/><rect class="h" x="22%" width="56%" height="2"/></svg></g>
<g id="n273"><svg x="1274" y="904" width="42" height="26" class="p"><rect width="100%" height="100%"/><rect class="h" x="22%" width="56%" height="2"/></svg></g>
<g id="n274"><svg x="1330" y="868" width="45" height="78" class="p"><rect width="100%" height="100%"/><rect class="h" x="22%" width="56%" height="2"/></svg></g>
</svg>
